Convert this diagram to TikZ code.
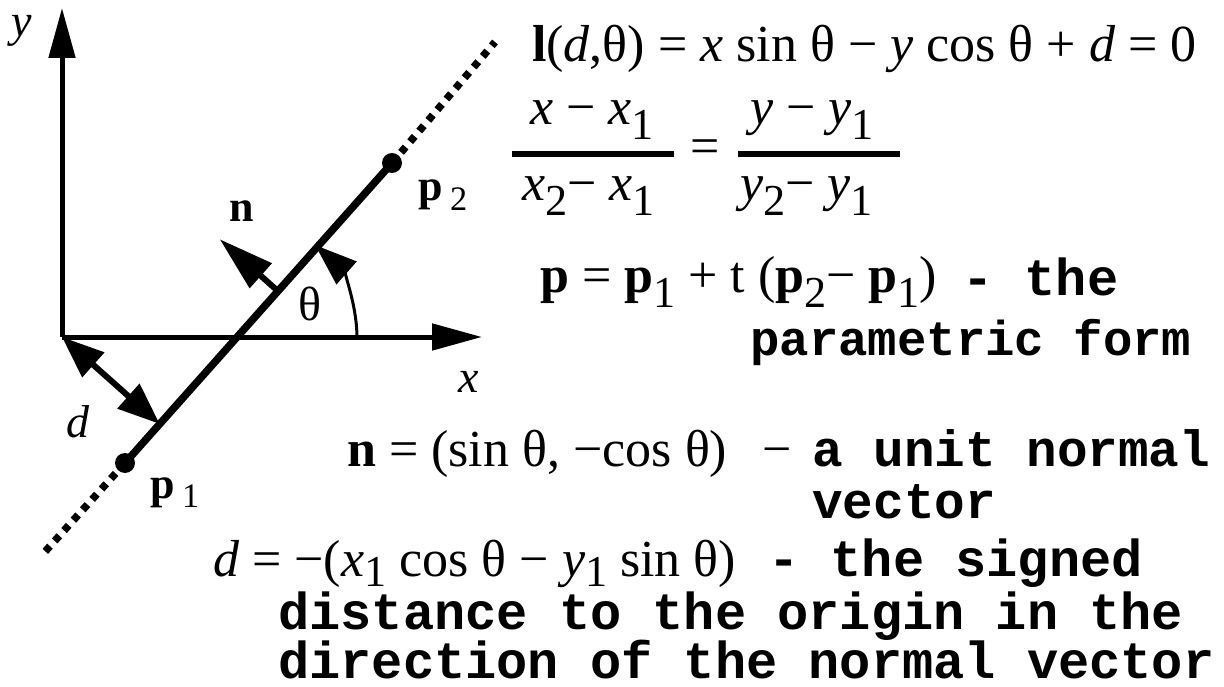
\documentclass[tikz,border=0pt]{standalone}
\usepackage{fontspec}
\usepackage{graphicx}
\setmainfont{Liberation Serif}
\newfontfamily\cour{Liberation Mono}
\usetikzlibrary{arrows.meta,calc}
\newcommand\ssb[1]{\raisebox{-0.28em}{\scalebox{0.85}{#1}}}
\newcommand\dsb[1]{\raisebox{-0.2em}{\scalebox{0.85}{#1}}}
\newcommand\lsb[1]{\raisebox{-0.22em}{\scalebox{0.78}{#1}}}
\tikzset{
  tx/.style={inner sep=0pt, anchor=base west, font=\fontsize{52}{60}\selectfont},
  lbl/.style={inner sep=0pt, anchor=base west, font=\fontsize{44}{50}\selectfont},
  mono/.style={inner sep=0pt, anchor=base west, font=\fontsize{52}{60}\selectfont\cour\bfseries},
  axis/.style={line width=5pt, -{Triangle[length=50pt,width=26pt]}},
  mainline/.style={line width=7.5pt},
  dotline/.style={line width=7.5pt, dash pattern=on 7pt off 7pt},
  pt/.style={fill=black, circle, inner sep=0pt, minimum size=20pt},
  fbar/.style={line width=5.5pt},
}
\begin{document}
\begin{tikzpicture}[x=1pt,y=-1pt]
\useasboundingbox (0,0) rectangle (1224,687);
% geometry
\coordinate (O) at (62,337);
\coordinate (Ytip) at (62,8);
\coordinate (Xtip) at (482,337);
\coordinate (E1) at (42,555);
\coordinate (E2) at (495,42);
\node[pt] (P1) at (125,463) {};
\node[pt] (P2) at (392,163) {};
\coordinate (C) at (233,338);
\coordinate (F) at ($(P1.center)!(O)!(P2.center)$);
\coordinate (Nb) at ($(P1.center)!0.573!(P2.center)$);
\coordinate (Nt) at ($(Nb)!78pt!90:(P2.center)$);
% axes
\draw[axis] (O) -- (Ytip);
\draw[axis] (O) -- (Xtip);
% line
\draw[mainline] (P1.center) -- (P2.center);
\draw[dotline] (P2.center) -- (E2);
\draw[dotline] (P1.center) -- (E1);
% theta arc
\draw[line width=3pt, -{Triangle[length=42pt,width=30pt]}] ($(C)+(124,0)$) arc[start angle=0, end angle=-48.5, radius=124];
% normal
\draw[line width=6pt, -{Triangle[length=55pt,width=32pt]}] (Nb) -- (Nt);
% distance
\draw[line width=6pt, {Triangle[length=42pt,width=32pt]}-{Triangle[length=42pt,width=32pt]}] (O) -- (F);
% labels
\node[lbl, font=\fontsize{46}{50}\selectfont\itshape] (ly) at (11,37) {y};
\node[lbl, font=\fontsize{46}{50}\selectfont\itshape] (lx) at (458,392) {x};
\node[lbl, font=\fontsize{46}{50}\selectfont\itshape] (ld) at (66,437) {d};
\node[lbl, font=\fontsize{48}{50}\selectfont] (lth) at (298,320) {θ};
\node[lbl] (ln) at (229,222) {\textbf{n}};
\node[lbl] (lp2) at (418,201) {\textbf{p}\,\lsb{2}};
\node[lbl] (lp1) at (150,498) {\textbf{p}\,\lsb{1}};
% equations
\node[tx] (eq1) at (532,62) {\textbf{l}(\textit{d},θ) = \textit{x} sin θ − \textit{y} cos θ + \textit{d} = 0};
\node[tx] (fn1) at (530,125) {\textit{x} − \textit{x}\ssb{1}};
\node[tx] (fd1) at (522,201) {\textit{x}\ssb{2}− \textit{x}\ssb{1}};
\node[tx] (feq) at (690,164) {=};
\node[tx] (fn2) at (750,125) {\textit{y} − \textit{y}\ssb{1}};
\node[tx] (fd2) at (740,201) {\textit{y}\ssb{2}− \textit{y}\ssb{1}};
\draw[fbar] (512,154) -- (674,154);
\draw[fbar] (738,154) -- (900,154);
\node[tx] (eqp) at (540,293) {\textbf{p} = \textbf{p}\ssb{1} + t (\textbf{p}\ssb{2}− \textbf{p}\ssb{1})};
\node[mono] (mp1) at (962,295) {- the};
\node[mono, font=\fontsize{49}{60}\selectfont\cour\bfseries] (mp2) at (750,355) {parametric form};
\node[tx] (eqn) at (347,466) {\textbf{n} = (sin θ, −cos θ)};
\node[tx] (mnm) at (762,466) {−};
\node[mono, font=\fontsize{51}{60}\selectfont\cour\bfseries] (mn1) at (812,466) {a unit normal};
\node[mono, font=\fontsize{51}{60}\selectfont\cour\bfseries] (mn2) at (812,518) {vector};
\node[tx] (eqd) at (213,576) {\textit{d} = −(\textit{x}\dsb{1} cos θ − \textit{y}\dsb{1} sin θ)};
\node[mono] (md1) at (768,576) {- the signed};
\node[mono] (md2) at (278,629) {distance to the origin in the};
\node[mono] (md3) at (278,678) {direction of the normal vector};
\end{tikzpicture}
\end{document}
